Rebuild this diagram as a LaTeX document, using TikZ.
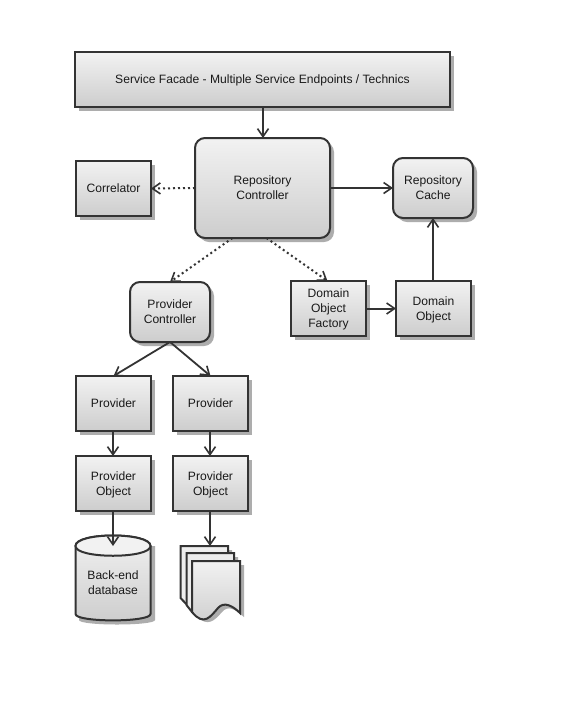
\documentclass[tikz,border=0pt]{standalone}
\usepackage{fontspec}
\setmainfont{Liberation Sans}
\usetikzlibrary{arrows.meta,shadows,calc}
\definecolor{edge}{HTML}{333333}
\definecolor{shad}{HTML}{ADADAD}
\definecolor{gtop}{HTML}{F2F2F2}
\definecolor{gbot}{HTML}{CDCDCD}
\newcommand{\st}{\rule[-2.6pt]{0pt}{13.3pt}}
\tikzset{
  stylebox/.style={draw=edge,line width=2pt,top color=gtop,bottom color=gbot,align=center,
    font=\fontsize{12.1pt}{15pt}\selectfont,text=black!90,inner sep=0pt,outer sep=0pt,
    drop shadow={shadow xshift=4pt,shadow yshift=-4pt,fill=shad,opacity=1}},
  sq/.style={stylebox,minimum width=75pt,minimum height=55pt},
  rnd/.style={stylebox,rounded corners=10pt,minimum width=80pt,minimum height=60pt},
  conn/.style={draw=edge,line width=2pt,-{Straight Barb[length=8pt,width=11pt,line width=1.6pt]}},
  dots/.style={conn,dash pattern=on 2pt off 3pt},
  slanted/.style={draw=edge,line width=1.8pt,-{Straight Barb[length=8pt,width=11pt,line width=1.6pt]}},
  shape line/.style={draw=edge,line width=2pt},
  plain label/.style={align=center,font=\fontsize{12.1pt}{15pt}\selectfont,text=black!90,inner sep=0pt}
}
\begin{document}
\begin{tikzpicture}[x=1pt,y=-1pt]
\useasboundingbox[fill=white] (0,0) rectangle (573,721);
% nodes
\node[sq,minimum width=375pt] (facade) at (262.5,79.5) {\st Service Facade - Multiple Service Endpoints / Technics};
\node[sq] (corr) at (113.5,188.5) {\st Correlator};
\node[rnd,minimum width=135pt,minimum height=100pt] (repo) at (262.5,188) {\st Repository\\\st Controller};
\node[rnd] (cache) at (433,188) {\st Repository\\\st Cache};
\node[rnd] (pc) at (170,312) {\st Provider\\\st Controller};
\node[sq] (factory) at (328.5,308.5) {\st Domain\\\st Object\\\st Factory};
\node[sq] (dobj) at (433.5,308.5) {\st Domain\\\st Object};
\node[sq] (p1) at (113.5,403.5) {\st Provider};
\node[sq] (p2) at (210.5,403.5) {\st Provider};
\node[sq] (po1) at (113.5,483.5) {\st Provider\\\st Object};
\node[sq] (po2) at (210.5,483.5) {\st Provider\\\st Object};
% database
\fill[shad] (79,546) -- (79,620) .. controls (79,626) and (155,626) .. (155,620) -- (155,546) -- cycle;
\path[shape line,top color=gtop,bottom color=gbot] (75.5,546) -- (75.5,614)
  .. controls (75.5,622.5) and (150.5,622.5) .. (150.5,614) -- (150.5,546)
  .. controls (150.5,532) and (75.5,532) .. (75.5,546) -- cycle;
\path[shape line,fill=gtop] (75.5,546) .. controls (75.5,532) and (150.5,532) .. (150.5,546)
  .. controls (150.5,559) and (75.5,559) .. (75.5,546) -- cycle;
\node[plain label] (db) at (113,583) {\st Back-end\\\st database};
\coordinate (dbtop) at (113,546);
% documents
\fill[shad] (184,552) -- (232,550) -- (232,600) -- (190,604) -- cycle;
\path[shape line,fill=gtop!90!gbot] (180.5,546) -- (228,546) -- (228,600) -- (192,610) -- (180.5,598) -- cycle;
\fill[shad] (190,560) -- (238,557) -- (238,606) -- (195,612) -- cycle;
\path[shape line,fill=gtop!85!gbot] (186.5,553) -- (234,553) -- (234,606) -- (192,612) -- (186.5,605) -- cycle;
\fill[shad] (196,565) -- (244,565) -- (244,617)
  .. controls (235,609) and (228,605) .. (222,612)
  .. controls (215,620) and (208,628) .. (196,616) -- cycle;
\path[shape line,top color=gtop,bottom color=gbot] (192,561) -- (240,561) -- (240,613)
  .. controls (233,606) and (224,601) .. (218,608)
  .. controls (211,616) and (204,627) .. (192,612) -- cycle;
\coordinate (doctop) at (210,546);
% connectors
\draw[conn] ([xshift=.5pt]facade.south) -- ([xshift=.5pt]repo.north);
\draw[dots] (repo.west) -- (corr.east);
\draw[conn] (repo.east) -- (cache.west);
\draw[dots] ([xshift=-30pt]repo.south) -- (pc.north);
\draw[dots] ([xshift=4pt]repo.south) -- ([xshift=-1pt]factory.north);
\draw[slanted] (pc.south) -- (p1.north);
\draw[slanted] (pc.south) -- (p2.north);
\draw[conn] (factory.east) -- (dobj.west);
\draw[conn] ([xshift=-.5pt]dobj.north) -- ([xshift=-.5pt]dobj.north |- cache.south);
\draw[conn] ([xshift=-.5pt]p1.south) -- ([xshift=-.5pt]po1.north);
\draw[conn] ([xshift=-.5pt]p2.south) -- ([xshift=-.5pt]po2.north);
\draw[conn] ([xshift=-.5pt]po1.south) -- (dbtop);
\draw[conn] ([xshift=-.5pt]po2.south) -- (doctop);
\end{tikzpicture}
\end{document}
